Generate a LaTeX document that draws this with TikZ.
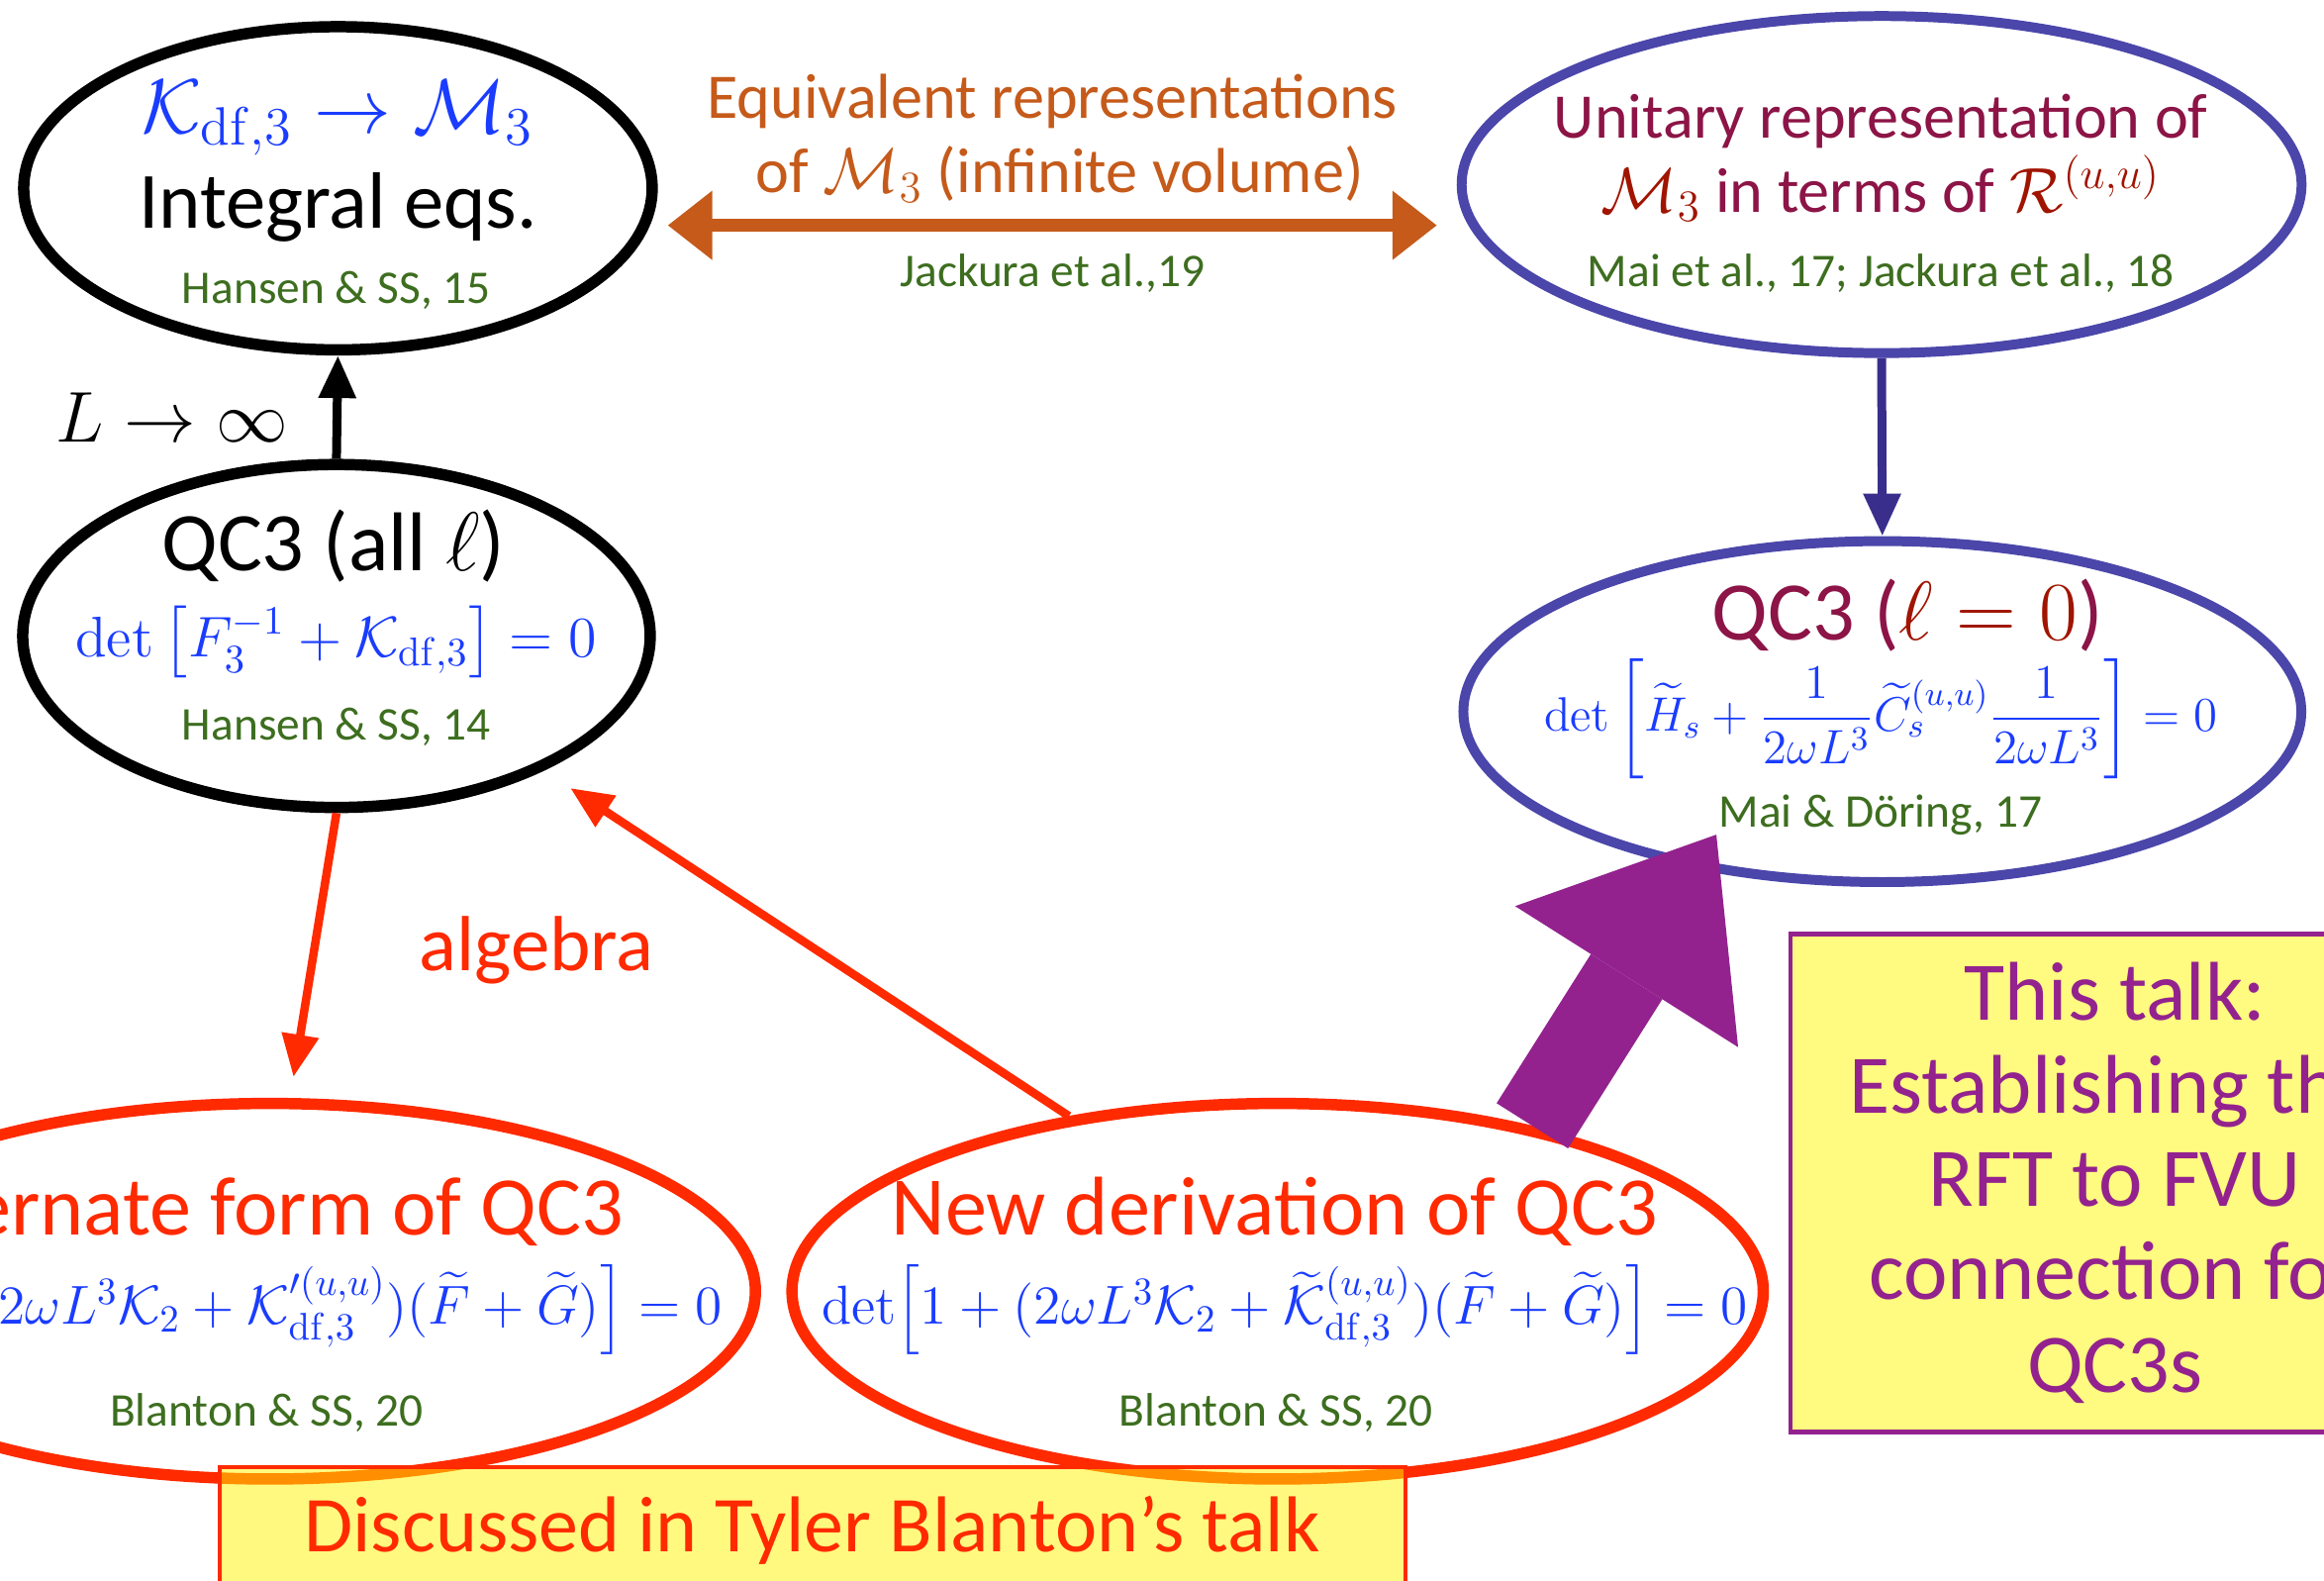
\RequirePackage{fix-cm}
\documentclass[tikz,border=0pt]{standalone}
\usepackage{amsmath}
\usepackage[no-math]{fontspec}
\setmainfont{Carlito}
\usetikzlibrary{shapes.geometric,arrows.meta,positioning}
\definecolor{verde}{HTML}{3D6E1F}
\definecolor{blum}{HTML}{1A3CFF}
\definecolor{viola}{HTML}{4B46AA}
\definecolor{violascuro}{HTML}{3A2E8C}
\definecolor{rosso}{HTML}{FF2A00}
\definecolor{arancio}{HTML}{C55A1A}
\definecolor{bordeaux}{HTML}{8C1446}
\definecolor{mattone}{HTML}{A01400}
\definecolor{porpora}{HTML}{93228E}
\definecolor{giallo}{HTML}{FFF500}

\begin{document}
\begin{tikzpicture}[x=0.15mm, y=-0.15mm,
        ovale/.style={ellipse, draw, inner sep=0pt},
        titolo/.style={anchor=base, inner sep=0pt, font=\fontsize{24}{28}\selectfont},
        medio/.style={anchor=base, inner sep=0pt, font=\fontsize{18.3}{22}\selectfont},
        cit/.style={anchor=base, inner sep=0pt, text=verde, font=\fontsize{13.5}{16}\selectfont},
        formula/.style={anchor=base, inner sep=0pt, text=blum, font=\fontsize{16.5}{20}\selectfont},
        freccia/.style={-{Triangle[length=4.3mm,width=3.6mm]}, line width=0.9mm}]
        \useasboundingbox (0,0) rectangle (1568,1066);
        \clip (0,0) rectangle (1568,1066);
        % Ellissi
        \node[ovale, line width=1.15mm, minimum width=63.6mm, minimum height=32.7mm] (intg) at (228,127) {};
        \node[ovale, line width=1.15mm, minimum width=63.5mm, minimum height=34.7mm] (qcall) at (227,429) {};
        \node[ovale, draw=viola, line width=1mm, minimum width=85mm, minimum height=34.1mm] (unit) at (1269.5,124.5) {};
        \node[ovale, draw=viola, line width=1mm, minimum width=84.8mm, minimum height=34.5mm] (qczero) at (1270,480) {};
        \node[ovale, draw=rosso, line width=1.15mm, minimum width=98.3mm, minimum height=38mm] (altform) at (182,871) {};
        \node[ovale, draw=rosso, line width=1.15mm, minimum width=98.3mm, minimum height=38mm] (newder) at (862,871) {};
        % Frecce
        \coordinate (quota) at (0,152);
        \draw[arancio, line width=1.35mm, {Triangle[length=4.5mm,width=6.7mm]}-{Triangle[length=4.5mm,width=6.7mm]},
            shorten <=1mm, shorten >=2mm] (intg.east |- quota) -- (unit.west |- quota);
        \draw[freccia] (qcall.north) -- (intg.south);
        \draw[freccia, violascuro] (unit.south) -- (qczero.north);
        \draw[freccia, rosso, line width=0.85mm] (qcall.south) -- ([shift={(2.4mm,2.1mm)}]altform.north);
        \draw[freccia, rosso, line width=0.85mm, shorten >=3.2mm] (newder.140) -- (qcall.-33);
        % Testi in alto
        \node[formula, font=\fontsize{22.2}{26}\selectfont] (intg-f) at (228,90) {$\mathcal{K}_{\mathrm{df},3}\to\mathcal{M}_3$};
        \node[titolo, font=\fontsize{23}{27}\selectfont] (intg-t) at (228,154) {Integral eqs.};
        \node[cit] (intg-c) at (227,205) {Hansen \& SS, 15};
        \node[medio, text=arancio] (eq-1) at (710,80) {Equivalent representations};
        \node[medio, text=arancio] (eq-2) at (715,130) {of $\mathcal{M}_3$ (infinite volume)};
        \node[cit] (eq-c) at (710,193) {Jackura et al.,19};
        \node[medio, text=bordeaux] (unit-1) at (1269,93) {Unitary representation of};
        \node[medio, text=bordeaux] (unit-2) at (1269,143) {\textcolor{mattone}{$\mathcal{M}_3$} in terms of \textcolor{mattone}{$\mathcal{R}^{(u,u)}$}};
        \node[cit] (unit-c) at (1269,193) {Mai et al., 17;\ Jackura et al., 18};
        % Condizioni di quantizzazione
        \node[anchor=base, font=\fontsize{20.7}{24}\selectfont] (limite) at (116,298) {$L\to\infty$};
        \node[titolo] (qcall-t) at (225,385) {QC3 (all $\ell$)};
        \node[formula] (qcall-f) at (227,443) {$\det\left[F_3^{-1}+\mathcal{K}_{\mathrm{df},3}\right]=0$};
        \node[cit] (qcall-c) at (227,499) {Hansen \& SS, 14};
        \node[titolo, text=bordeaux] (qczero-t) at (1287,432) {QC3 (\textcolor{mattone}{$\ell=0$})};
        \node[formula, font=\fontsize{13.9}{17}\selectfont] (qczero-f) at (1269,493)
            {$\det\left[\widetilde{H}_s+\dfrac{1}{2\omega L^3}\widetilde{C}_s^{(u,u)}\dfrac{1}{2\omega L^3}\right]=0$};
        \node[cit] (qczero-c) at (1269,558) {Mai \& Döring, 17};
        \node[titolo, text=rosso, font=\fontsize{22.5}{27}\selectfont] (algebra) at (362,655) {algebra};
        \node[titolo, text=rosso, anchor=base east] (altform-t) at (421,833) {Alternate form of QC3};
        \node[formula, font=\fontsize{15.8}{19}\selectfont, anchor=base east] (altform-f) at (488,893)
            {$\det\Bigl[1+(2\omega L^3\mathcal{K}_2+\mathcal{K}^{\prime(u,u)}_{\mathrm{df},3})(\widetilde{F}+\widetilde{G})\Bigr]=0$};
        \node[cit] (altform-c) at (180,962) {Blanton \& SS, 20};
        \node[titolo, text=rosso] (newder-t) at (860,833) {New derivation of QC3};
        \node[formula, font=\fontsize{15.8}{19}\selectfont] (newder-f) at (867,893)
            {$\det\Bigl[1+(2\omega L^3\mathcal{K}_2+\widetilde{\mathcal{K}}^{(u,u)}_{\mathrm{df},3})(\widetilde{F}+\widetilde{G})\Bigr]=0$};
        \node[cit] (newder-c) at (861,962) {Blanton \& SS, 20};
        % Riquadri gialli
        \node[draw=porpora, line width=0.45mm, fill=giallo!50, text=porpora, align=center,
            font=\fontsize{24}{26.8}\selectfont, minimum width=65.7mm, minimum height=50.4mm] (talk) at (1427,798)
            {This talk:\\Establishing the\\RFT to FVU\\connection for\\QC3s};
        \node[draw=rosso, line width=0.4mm, fill=giallo, fill opacity=0.5, text opacity=1, text=rosso,
            font=\fontsize{22.8}{27}\selectfont, minimum width=120mm, minimum height=12.6mm] (blanton) at (548,1032)
            {Discussed in Tyler Blanton’s talk};
        % Freccia grande
        \coordinate (punta) at (1158,563);
        \draw[porpora, line width=8.55mm, -{Triangle[length=17mm,width=26.7mm,line width=0pt]}] (newder.33) -- (punta);
\end{tikzpicture}
\end{document}
